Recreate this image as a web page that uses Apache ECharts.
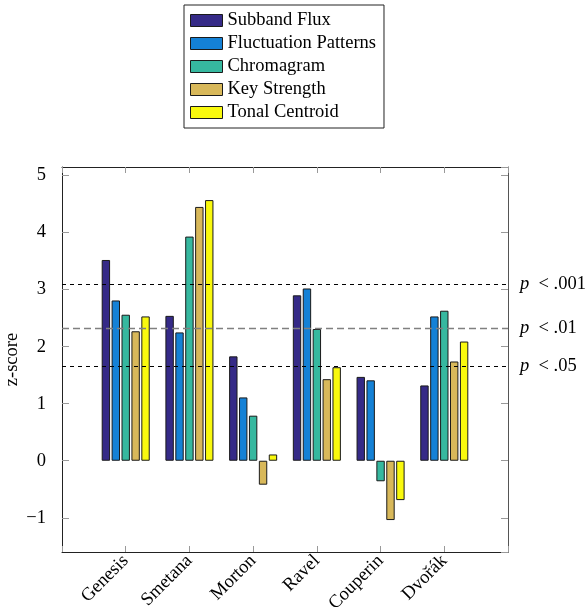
<!DOCTYPE html>
<html>
<head>
<meta charset="utf-8">
<script src="https://cdn.jsdelivr.net/npm/echarts@6/dist/echarts.min.js"></script>
<style>
html,body{margin:0;padding:0;background:#fff;}
#chart{width:588px;height:607px;}
</style>
</head>
<body>
<div id="chart"></div>
<script>
var categories = ['Genesis', 'Smetana', 'Morton', 'Ravel', 'Couperin', 'Dvořák'];
var seriesNames = ['Subband Flux', 'Fluctuation Patterns', 'Chromagram', 'Key Strength', 'Tonal Centroid'];
var subbandFlux = [3.52, 2.54, 1.83, 2.90, 1.47, 1.32];
var fluctuationPatterns = [2.81, 2.25, 1.11, 3.02, 1.41, 2.53];
var chromagram = [2.56, 3.93, 0.79, 2.31, -0.36, 2.63];
var keyStrength = [2.27, 4.45, -0.42, 1.43, -1.04, 1.74];
var tonalCentroid = [2.53, 4.57, 0.11, 1.64, -0.69, 2.09];
var thresholds = [3.09, 2.33, 1.645];
var thresholdLabels = ['.001', '.01', '.05'];
var yTicks = [-1, 0, 1, 2, 3, 4, 5];

var colors = ['#352a87', '#1481d6', '#36b89f', '#d8b85a', '#f9f90e'];
var values = [subbandFlux, fluctuationPatterns, chromagram, keyStrength, tonalCentroid];
var FONT = '"Liberation Serif", "DejaVu Serif", serif';
var FS = 18.5;

// padded categories so that the six groups sit at 1..6 of a 0..7 range
var cats = [''].concat(categories).concat(['']);

var lineStyles = [
  {color: '#000', type: [4, 4], width: 1},
  {color: '#808080', type: [7, 4], width: 1.3},
  {color: '#000', type: [4, 4], width: 1}
];

var series = seriesNames.map(function (name, i) {
  var s = {
    name: name,
    type: 'bar',
    xAxisIndex: 0,
    yAxisIndex: 0,
    data: ['-'].concat(values[i]).concat(['-']),
    barWidth: 8.4,
    barGap: '18%',
    itemStyle: {color: colors[i], borderColor: '#1a1a1a', borderWidth: 1},
    emphasis: {disabled: true},
    animation: false
  };
  if (i === 0) {
    s.markLine = {
      silent: true,
      symbol: 'none',
      animation: false,
      data: thresholds.map(function (t, k) {
        return {
          yAxis: t,
          lineStyle: lineStyles[k],
          label: {formatter: '{i|p}  < ' + thresholdLabels[k]}
        };
      }),
      label: {
        show: true,
        position: 'end',
        distance: 12,
        color: '#000',
        fontFamily: FONT,
        fontSize: FS,
        rich: {i: {fontStyle: 'italic', fontFamily: FONT, fontSize: FS, color: '#000'}}
      }
    };
  }
  return s;
});

var chart = echarts.init(document.getElementById('chart'), null, {renderer: 'canvas'});
chart.setOption({
  backgroundColor: '#fff',
  animation: false,
  legend: {
    data: seriesNames,
    orient: 'vertical',
    left: 184,
    top: 5,
    padding: [6, 8, 6, 6],
    itemGap: 4,
    itemWidth: 32,
    itemHeight: 12,
    icon: 'rect',
    borderColor: '#222',
    borderWidth: 1,
    borderRadius: 0,
    selectedMode: false,
    itemStyle: {borderColor: '#1a1a1a', borderWidth: 1},
    textStyle: {fontFamily: FONT, fontSize: FS, color: '#000'}
  },
  grid: {left: 62, right: 80, top: 167, bottom: 55, containLabel: false, outerBoundsMode: 'none'},
  xAxis: [{
    type: 'category',
    data: cats,
    boundaryGap: false,
    position: 'bottom',
    axisLine: {show: true, onZero: false, lineStyle: {color: '#222', width: 1}},
    axisTick: {show: true, inside: true, length: 6, interval: 0, lineStyle: {color: '#999'}},
    axisLabel: {interval: 0, rotate: 45, margin: 6, padding: [0, 0, 8, 0], fontFamily: FONT, fontSize: FS, color: '#000'},
    splitLine: {show: false}
  }, {
    type: 'category',
    data: cats,
    boundaryGap: false,
    position: 'top',
    axisLine: {show: true, onZero: false, lineStyle: {color: '#222', width: 1}},
    axisTick: {show: true, inside: true, length: 6, interval: 0, lineStyle: {color: '#999'}},
    axisLabel: {show: false},
    splitLine: {show: false}
  }],
  yAxis: [{
    type: 'value',
    min: -1.6,
    max: 5.15,
    splitNumber: 7,
    position: 'left',
    name: 'z-score',
    nameLocation: 'middle',
    nameGap: 40,
    nameMoveOverlap: false,
    nameTextStyle: {fontFamily: FONT, fontSize: FS, color: '#000'},
    axisLine: {show: true, onZero: false, lineStyle: {color: '#222', width: 1}},
    axisTick: {show: true, inside: true, length: 7, lineStyle: {color: '#999'}},
    axisLabel: {
      showMinLabel: false, showMaxLabel: false, margin: 16,
      fontFamily: FONT, fontSize: FS, color: '#000',
      formatter: function (v) {
        if (yTicks.indexOf(v) < 0) return '';
        return v < 0 ? '\u2212' + Math.abs(v) : String(v);
      }
    },
    splitLine: {show: false}
  }, {
    type: 'value',
    min: -1.6,
    max: 5.15,
    splitNumber: 7,
    position: 'right',
    axisLine: {show: true, onZero: false, lineStyle: {color: '#555', width: 1}},
    axisTick: {show: true, inside: true, length: 7, lineStyle: {color: '#999'}},
    axisLabel: {show: false},
    splitLine: {show: false}
  }],
  series: series
});
</script>
</body>
</html>
